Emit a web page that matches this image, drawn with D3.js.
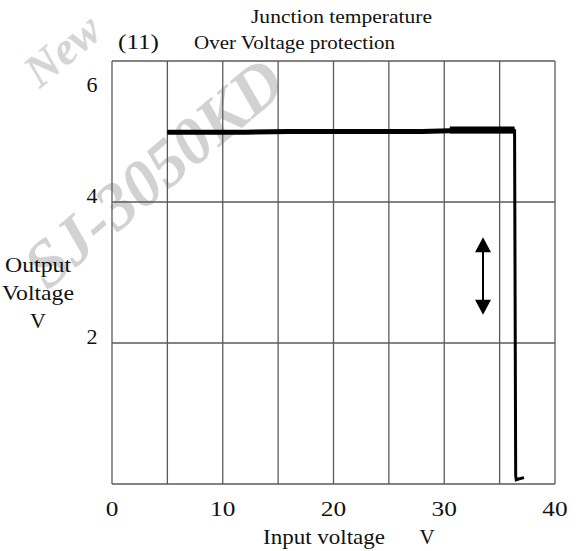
<!DOCTYPE html>
<html>
<head>
<meta charset="utf-8">
<script src="https://cdn.jsdelivr.net/npm/d3@7"></script>
<style>
  html, body { margin: 0; padding: 0; background: #fff; }
  svg { display: block; }
  text { font-family: "Liberation Serif", "Times New Roman", serif; fill: #111; }
</style>
</head>
<body>
<script>
// Over-voltage protection curve: output voltage vs input voltage
const xTicks = [0, 10, 20, 30, 40];
const yTicks = [2, 4, 6];
const xGrid = [0, 5, 10, 15, 20, 25, 30, 35, 40];
const yGrid = [0, 2, 4, 6];

// measured output trace (input V, output V)
const traceIn  = [5.0, 8.0, 12.0, 16.0, 20.0, 24.0, 28.0, 30.5, 33.0, 36.35, 36.45, 36.5, 36.7, 37.2];
const traceOut = [4.99, 4.99, 4.99, 5.0, 5.0, 5.0, 5.0, 5.01, 5.01, 5.01, 0.12, 0.06, 0.07, 0.09];
// heavier stretch of the plateau just before the trip point
const heavyIn  = [30.5, 36.35];
const heavyOut = [5.02, 5.02];

// hysteresis arrow (input V, output V range)
const arrowAt = 33.5;
const arrowRange = [2.4, 3.5];

const W = 579, H = 551;
const svg = d3.select("body").append("svg").attr("width", W).attr("height", H);

const x = d3.scaleLinear().domain([0, 40]).range([112, 555]);
const y = d3.scaleLinear().domain([0, 6]).range([484, 61]);

// faint watermark
const wm = svg.append("g").style("font-weight", "bold").style("font-style", "italic");
wm.append("text").attr("transform", "translate(72,62) rotate(-40)")
  .attr("text-anchor", "middle").style("font-size", "46px").style("fill", "#d5d5d5")
  .text("New");
wm.append("text").attr("transform", "translate(168,190) rotate(-40)")
  .attr("text-anchor", "middle").style("font-size", "66px").style("fill", "#d2d2d2")
  .text("SJ-3050KD");

// grid
const grid = svg.append("g").attr("stroke", "#5a5a5a").attr("stroke-width", 1.3);
grid.selectAll("line.v").data(xGrid).join("line").attr("class", "v")
  .attr("x1", d => x(d)).attr("x2", d => x(d))
  .attr("y1", y(0)).attr("y2", y(6));
grid.selectAll("line.h").data(yGrid).join("line").attr("class", "h")
  .attr("x1", x(0)).attr("x2", x(40))
  .attr("y1", d => y(d)).attr("y2", d => y(d));

// x tick labels
svg.append("g").selectAll("text").data(xTicks).join("text")
  .attr("x", d => x(d)).attr("y", y(0) + 32)
  .attr("text-anchor", "middle").style("font-size", "22px")
  .attr("transform", d => `translate(${x(d)},0) scale(1.15,1) translate(${-x(d)},0)`)
  .text(d => d);

// y tick labels (top one sits inside the frame)
svg.append("g").selectAll("text").data(yTicks).join("text")
  .attr("x", 92).attr("y", d => y(d) + (d === 6 ? 31 : 1))
  .attr("text-anchor", "middle").style("font-size", "22px")
  .text(d => d);

// axis titles
svg.append("text").attr("x", 263).attr("y", 544)
  .style("font-size", "21px").attr("textLength", 122).attr("lengthAdjust", "spacingAndGlyphs")
  .text("Input voltage");
svg.append("text").attr("x", 427).attr("y", 544)
  .attr("text-anchor", "middle").style("font-size", "21px").text("V");
const yt = svg.append("text").attr("text-anchor", "middle").style("font-size", "22px");
["Output", "Voltage", "V"].forEach((s, i) => {
  yt.append("tspan").attr("x", 38).attr("y", 272 + i * 28)
    .attr("textLength", s === "V" ? null : (s === "Output" ? 66 : 72))
    .attr("lengthAdjust", "spacingAndGlyphs").text(s);
});

// headings
svg.append("text").attr("x", 251).attr("y", 23)
  .style("font-size", "19px").attr("textLength", 181).attr("lengthAdjust", "spacingAndGlyphs")
  .text("Junction temperature");
svg.append("text").attr("x", 118).attr("y", 49)
  .style("font-size", "20px").attr("textLength", 41).attr("lengthAdjust", "spacingAndGlyphs")
  .text("(11)");
svg.append("text").attr("x", 194).attr("y", 49)
  .style("font-size", "18px").attr("textLength", 201).attr("lengthAdjust", "spacingAndGlyphs")
  .text("Over Voltage protection");

// trace
const line = d3.line().x(d => x(d[0])).y(d => y(d[1]));
svg.append("path")
  .datum(d3.zip(traceIn, traceOut))
  .attr("d", line).attr("fill", "none").attr("stroke", "#000")
  .attr("stroke-width", 3).attr("stroke-linejoin", "miter");
svg.append("path")
  .datum(d3.zip(traceIn.slice(0, 10), traceOut.slice(0, 10)))
  .attr("d", line).attr("fill", "none").attr("stroke", "#000")
  .attr("stroke-width", 5);
svg.append("path")
  .datum(d3.zip(heavyIn, heavyOut))
  .attr("d", line).attr("fill", "none").attr("stroke", "#000")
  .attr("stroke-width", 7);

// double-headed arrow
const ax = x(arrowAt), yTop = y(arrowRange[1]), yBot = y(arrowRange[0]);
const headH = 15, headW = 8;
svg.append("line").attr("x1", ax).attr("x2", ax)
  .attr("y1", yTop + headH - 2).attr("y2", yBot - headH + 2)
  .attr("stroke", "#000").attr("stroke-width", 2);
svg.append("path").attr("fill", "#000")
  .attr("d", `M${ax},${yTop} L${ax - headW},${yTop + headH} L${ax + headW},${yTop + headH} Z`);
svg.append("path").attr("fill", "#000")
  .attr("d", `M${ax},${yBot} L${ax - headW},${yBot - headH} L${ax + headW},${yBot - headH} Z`);
</script>
</body>
</html>
